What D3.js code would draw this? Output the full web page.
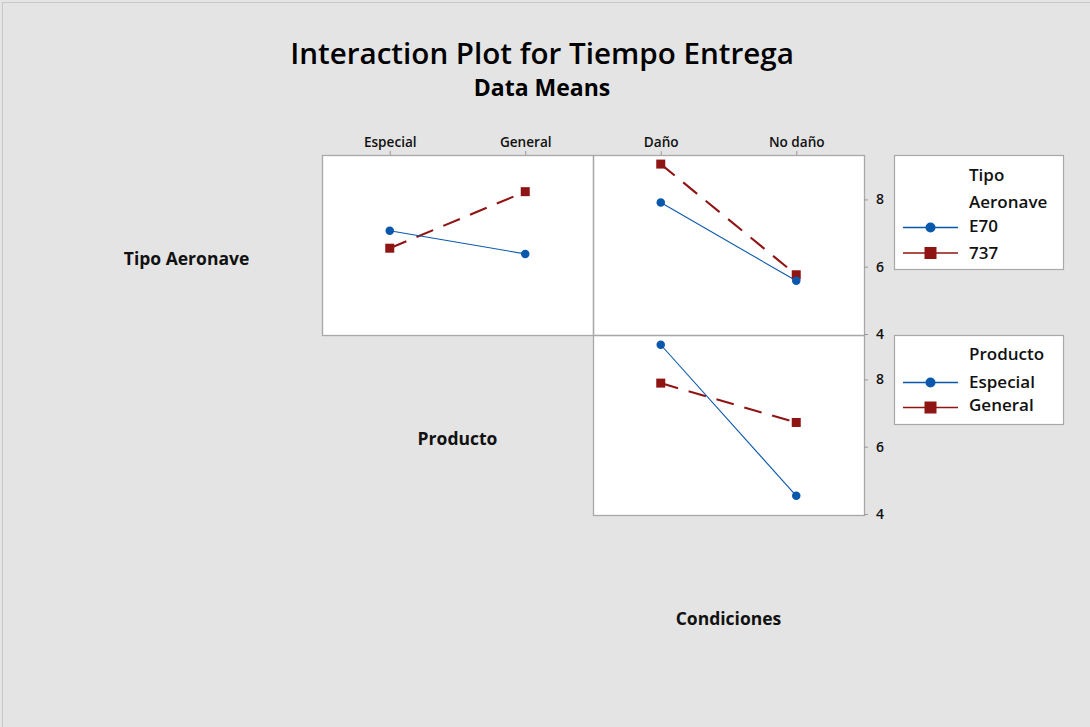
<!DOCTYPE html>
<html>
<head>
<meta charset="utf-8">
<script src="https://cdn.jsdelivr.net/npm/d3@7"></script>
<style>
  html, body { margin: 0; padding: 0; background: #e4e4e4; }
  svg { display: block; font-family: "Open Sans", "Noto Sans", sans-serif; }
</style>
</head>
<body>
<svg id="chart" width="1090" height="727"></svg>
<script>
// Factor names and their levels
const factorNames = ["Tipo Aeronave", "Producto", "Condiciones"];
const tipoLevels = ["E70", "737"];
const productoLevels = ["Especial", "General"];
const condicionesLevels = ["Daño", "No daño"];
const yTicks = [4, 6, 8];

// Means of Tiempo Entrega, by Producto, for each Tipo Aeronave
const e70ByProducto = [7.07, 6.38];
const b737ByProducto = [6.55, 8.23];
// Means by Condiciones, for each Tipo Aeronave
const e70ByCondiciones = [7.91, 5.58];
const b737ByCondiciones = [9.05, 5.76];
// Means by Condiciones, for each Producto
const especialByCondiciones = [9.03, 4.54];
const generalByCondiciones = [7.89, 6.72];

const BLUE = "#0a58ab";
const RED = "#8f1515";
const FRAME = "#a8a8a8";

const svg = d3.select("#chart");

// outer figure edge
svg.append("line").attr("x1", 2.5).attr("x2", 2.5).attr("y1", 2).attr("y2", 727)
  .attr("stroke", "#c8c8c8");
svg.append("line").attr("x1", 2).attr("x2", 1090).attr("y1", 2.5).attr("y2", 2.5)
  .attr("stroke", "#c8c8c8");

// titles
svg.append("text").attr("x", 542).attr("y", 64).attr("text-anchor", "middle")
  .attr("font-size", 29.6).attr("font-weight", 600).attr("fill", "#000")
  .text("Interaction Plot for Tiempo Entrega");
svg.append("text").attr("x", 542).attr("y", 96).attr("text-anchor", "middle")
  .attr("font-size", 23).attr("font-weight", 700).attr("fill", "#000").text("Data Means");

// matrix grid geometry
const colX = [51, 322, 593, 864];
const rowY = [155, 335, 515, 695];

// diagonal factor labels
factorNames.forEach((name, i) => {
  svg.append("text")
    .attr("x", (colX[i] + colX[i + 1]) / 2)
    .attr("y", (rowY[i] + rowY[i + 1]) / 2 + 20)
    .attr("text-anchor", "middle")
    .attr("font-size", 17.5).attr("font-weight", 700).attr("fill", "#111")
    .text(name);
});

const yDomain = [3.97, 9.32];

const panels = [
  { row: 0, col: 1, levels: productoLevels,
    series: [{ values: e70ByProducto, key: 0 }, { values: b737ByProducto, key: 1 }] },
  { row: 0, col: 2, levels: condicionesLevels,
    series: [{ values: e70ByCondiciones, key: 0 }, { values: b737ByCondiciones, key: 1 }] },
  { row: 1, col: 2, levels: condicionesLevels,
    series: [{ values: especialByCondiciones, key: 0 }, { values: generalByCondiciones, key: 1 }] }
];

const styles = [
  { color: BLUE, width: 1.1, dash: null, shape: "circle" },
  { color: RED, width: 2.1, dash: "18,11", shape: "square" }
];

function drawMarker(g, shape, cx, cy, size, color) {
  if (shape === "circle") {
    g.append("circle").attr("cx", cx).attr("cy", cy).attr("r", size / 2).attr("fill", color);
  } else {
    g.append("rect").attr("x", cx - size / 2).attr("y", cy - size / 2)
      .attr("width", size).attr("height", size).attr("fill", color);
  }
}

// white panel backgrounds first, frames drawn after so shared edges stay single
panels.forEach(p => {
  svg.append("rect").attr("x", colX[p.col]).attr("y", rowY[p.row])
    .attr("width", colX[p.col + 1] - colX[p.col]).attr("height", rowY[p.row + 1] - rowY[p.row])
    .attr("fill", "#fff");
});

panels.forEach(p => {
  const x0 = colX[p.col], x1 = colX[p.col + 1];
  const y0 = rowY[p.row], y1 = rowY[p.row + 1];
  const g = svg.append("g");

  const x = d3.scalePoint().domain(p.levels).range([x0, x1]).padding(0.5);
  const y = d3.scaleLinear().domain(yDomain).range([y1, y0]);

  const line = d3.line().x((d, i) => x(p.levels[i])).y(d => y(d));

  // dashed series first so the solid one sits over it
  [...p.series].reverse().forEach(s => {
    const st = styles[s.key];
    g.append("path").datum(s.values).attr("d", line)
      .attr("fill", "none").attr("stroke", st.color).attr("stroke-width", st.width)
      .attr("stroke-dasharray", st.dash);
  });
  [...p.series].reverse().forEach(s => {
    const st = styles[s.key];
    s.values.forEach((v, i) => {
      drawMarker(g, st.shape, x(p.levels[i]), y(v), st.shape === "circle" ? 8.5 : 9, st.color);
    });
  });

  g.append("rect").attr("x", x0 + 0.5).attr("y", y0 + 0.5)
    .attr("width", x1 - x0).attr("height", y1 - y0)
    .attr("fill", "none").attr("stroke", FRAME).attr("stroke-width", 1.3);

  if (p.row === 0) {
    const ax = svg.append("g").attr("transform", `translate(0,${y0})`)
      .call(d3.axisTop(x).tickSize(4).tickPadding(4));
    ax.select(".domain").remove();
    ax.selectAll("line").attr("stroke", "#999");
    ax.selectAll("text").attr("font-size", 13.6).attr("font-weight", 600).attr("fill", "#111")
      .attr("font-family", "Open Sans, sans-serif");
  }
  if (p.col === 2) {
    const ay = svg.append("g").attr("transform", `translate(${x1},0)`)
      .call(d3.axisRight(y).tickValues(yTicks).tickSize(4).tickPadding(8).tickFormat(d3.format("d")));
    ay.select(".domain").remove();
    ay.selectAll("line").attr("stroke", "#999");
    ay.selectAll("text").attr("font-size", 14).attr("font-weight", 600).attr("fill", "#111")
      .attr("font-family", "Open Sans, sans-serif");
  }
});

// legends
function drawLegend(top, height, titleLines, titleY, labels, labelY, markerY) {
  const g = svg.append("g");
  g.append("rect").attr("x", 894.5).attr("y", top + 0.5).attr("width", 169).attr("height", height)
    .attr("fill", "#fff").attr("stroke", FRAME).attr("stroke-width", 1.2);
  titleLines.forEach((t, i) => {
    g.append("text").attr("x", 969).attr("y", titleY[i])
      .attr("font-size", 17).attr("font-weight", 600).attr("fill", "#111").text(t);
  });
  labels.forEach((lab, i) => {
    const st = styles[i];
    const cy = markerY[i];
    g.append("line").attr("x1", 903).attr("x2", 958).attr("y1", cy).attr("y2", cy)
      .attr("stroke", st.color).attr("stroke-width", 1.6);
    drawMarker(g, st.shape, 930.5, cy, st.shape === "circle" ? 10 : 12, st.color);
    g.append("text").attr("x", 969).attr("y", labelY[i])
      .attr("font-size", 17).attr("font-weight", 600).attr("fill", "#111").text(lab);
  });
}
drawLegend(155, 114, ["Tipo", "Aeronave"], [181, 208], tipoLevels, [232, 259], [227.5, 253]);
drawLegend(335, 89, ["Producto"], [360], productoLevels, [388, 411], [382.5, 407.5]);
</script>
</body>
</html>
